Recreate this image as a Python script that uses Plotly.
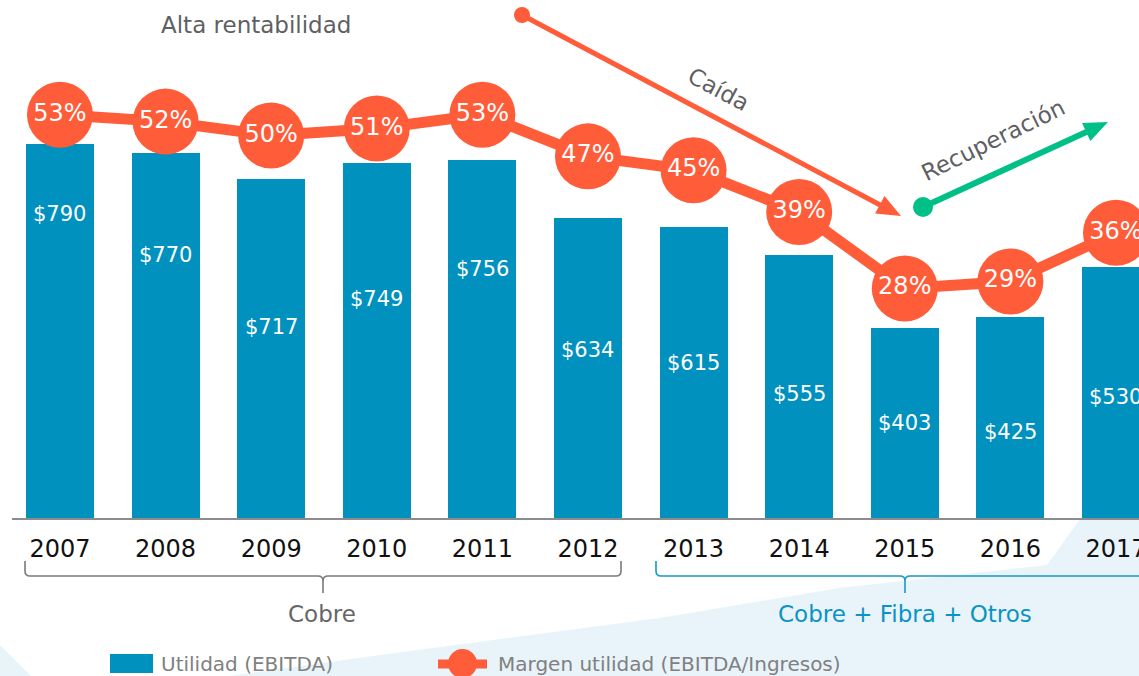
import math
import plotly.graph_objects as go

# ---------------- data ----------------
years = ["2007", "2008", "2009", "2010", "2011", "2012", "2013", "2014", "2015", "2016", "2017"]
utilidad = [790, 770, 717, 749, 756, 634, 615, 555, 403, 425, 530]      # Utilidad (EBITDA)
margen = [53, 52, 50, 51, 53, 47, 45, 39, 28, 29, 36]                  # Margen utilidad (%)
# vertical placement of the $ labels inside the bars (bar-axis units)
label_y = [642, 556, 404, 463, 526, 356, 328, 263, 202, 183, 257]

# ---------------- style ----------------
W, H = 1139, 676
PLOT_BOTTOM = 519
FONT = "DejaVu Sans, Verdana, sans-serif"
BLUE = "#0091BF"
ORANGE = "#FF5C39"
GREEN = "#00C087"
GRAY_TXT = "#5F5F63"
LEG_TXT = "#808080"
BG_BLUE = "#E8F4FA"


def px(x):
    return x / W


def py(y):
    return (PLOT_BOTTOM - y) / PLOT_BOTTOM


def path(points, close=True):
    s = "M " + " L ".join(f"{px(x):.5f},{py(y):.5f}" for x, y in points)
    return s + (" Z" if close else "")


fig = go.Figure()

fig.add_trace(go.Bar(
    x=years, y=utilidad, width=0.644, marker=dict(color=BLUE, line=dict(width=0)),
    showlegend=False, hoverinfo="x+y", name="Utilidad (EBITDA)",
))

fig.add_trace(go.Scatter(
    x=years, y=margen, yaxis="y2", mode="lines+markers+text",
    text=[f"{v}%" for v in margen], textposition="middle center",
    textfont=dict(color="white", size=24, family=FONT),
    marker=dict(size=66, color=ORANGE, line=dict(width=0)),
    line=dict(color=ORANGE, width=11),
    showlegend=False, name="Margen utilidad (EBITDA/Ingresos)",
))

annotations = []
for i, (v, ly) in enumerate(zip(utilidad, label_y)):
    annotations.append(dict(x=i, y=ly, xref="x", yref="y", text=f"${v}", showarrow=False,
                            font=dict(color="white", size=21, family=FONT)))


def txt(x, y, text, size, color, angle=0, xanchor="center"):
    annotations.append(dict(x=px(x), y=py(y), xref="paper", yref="paper", text=text,
                            showarrow=False, textangle=angle, xanchor=xanchor, yanchor="middle",
                            font=dict(size=size, color=color, family=FONT)))


txt(256, 25, "Alta rentabilidad", 23, GRAY_TXT)
txt(718, 89, "Caída", 23, GRAY_TXT, angle=28)
txt(993, 140, "Recuperación", 23, GRAY_TXT, angle=-26)
txt(322, 614, "Cobre", 23, "#666666")
txt(905, 614, "Cobre + Fibra + Otros", 23, "#0A93C4")
txt(159, 664, "Utilidad (EBITDA)", 20, LEG_TXT, xanchor="left")
txt(496, 664, "Margen utilidad (EBITDA/Ingresos)", 20, LEG_TXT, xanchor="left")

shapes = []
# background light-blue areas
shapes.append(dict(type="path", xref="paper", yref="paper", layer="below",
                   path=path([(1080, 519), (1139, 519), (1139, 676), (228, 676), (380, 655),
                              (660, 618), (839, 588), (1047, 565)]),
                   fillcolor=BG_BLUE, line=dict(width=0)))
shapes.append(dict(type="path", xref="paper", yref="paper", layer="below",
                   path=path([(0, 645), (31, 676), (0, 676)]),
                   fillcolor=BG_BLUE, line=dict(width=0)))
# axis line
shapes.append(dict(type="line", xref="paper", yref="paper", x0=px(12), x1=px(1139),
                   y0=py(519), y1=py(519), line=dict(color="#8C8C8C", width=2)))


def bracket(xl, xr, xc, color, right_open=False):
    yt, yh, yb = 561, 576, 593
    r = 5
    pts = f"M {px(xl):.5f},{py(yt):.5f} L {px(xl):.5f},{py(yh - r):.5f} Q {px(xl):.5f},{py(yh):.5f} {px(xl + r):.5f},{py(yh):.5f}"
    pts += f" L {px(xc - r):.5f},{py(yh):.5f} Q {px(xc):.5f},{py(yh):.5f} {px(xc):.5f},{py(yh + r):.5f} L {px(xc):.5f},{py(yb):.5f}"
    pts += f" M {px(xc):.5f},{py(yh + r):.5f} Q {px(xc):.5f},{py(yh):.5f} {px(xc + r):.5f},{py(yh):.5f}"
    if right_open:
        pts += f" L {px(xr):.5f},{py(yh):.5f}"
    else:
        pts += f" L {px(xr - r):.5f},{py(yh):.5f} Q {px(xr):.5f},{py(yh):.5f} {px(xr):.5f},{py(yh - r):.5f} L {px(xr):.5f},{py(yt):.5f}"
    shapes.append(dict(type="path", xref="paper", yref="paper", path=pts,
                       line=dict(color=color, width=1.6)))


bracket(25, 621, 323, "#7A7A7A")
bracket(656, 1145, 905, "#1798C8", right_open=True)


def arrow(x0, y0, x1, y1, color, lw, hl, hw, dot):
    L = math.hypot(x1 - x0, y1 - y0)
    dx, dy = (x1 - x0) / L, (y1 - y0) / L
    bx, by = x1 - dx * hl, y1 - dy * hl
    shapes.append(dict(type="line", xref="paper", yref="paper", x0=px(x0), y0=py(y0),
                       x1=px(bx + dx * 2), y1=py(by + dy * 2), line=dict(color=color, width=lw)))
    nx, ny = -dy, dx
    shapes.append(dict(type="path", xref="paper", yref="paper",
                       path=path([(x1, y1), (bx + nx * hw / 2, by + ny * hw / 2), (bx - nx * hw / 2, by - ny * hw / 2)]),
                       fillcolor=color, line=dict(width=0)))
    r = dot / 2
    shapes.append(dict(type="circle", xref="paper", yref="paper", x0=px(x0 - r), x1=px(x0 + r),
                       y0=py(y0 + r), y1=py(y0 - r), fillcolor=color, line=dict(width=0)))


arrow(522, 15, 901, 216, ORANGE, 5, 24, 20, 16)
arrow(923, 207, 1108, 122, GREEN, 6, 24, 20, 20)

# legend
shapes.append(dict(type="rect", xref="paper", yref="paper", x0=px(110), x1=px(153),
                   y0=py(673), y1=py(654), fillcolor=BLUE, line=dict(width=0)))
shapes.append(dict(type="line", xref="paper", yref="paper", x0=px(438), x1=px(487),
                   y0=py(664), y1=py(664), line=dict(color=ORANGE, width=9)))
shapes.append(dict(type="circle", xref="paper", yref="paper", x0=px(448), x1=px(477),
                   y0=py(678), y1=py(649), fillcolor=ORANGE, line=dict(width=0)))

fig.update_layout(
    width=W, height=H,
    margin=dict(l=0, r=0, t=0, b=H - PLOT_BOTTOM, pad=0, autoexpand=False),
    paper_bgcolor="white", plot_bgcolor="rgba(0,0,0,0)",
    font=dict(family=FONT),
    bargap=0,
    xaxis=dict(type="category", range=[-0.568, 10.218], showgrid=False, zeroline=False,
               showline=False, ticks="", tickfont=dict(size=24, color="#111111", family=FONT),
               ticklabelstandoff=13, automargin=False, fixedrange=True),
    yaxis=dict(range=[0, 1093], visible=False, fixedrange=True),
    yaxis2=dict(range=[-5.18, 69.5], overlaying="y", visible=False, fixedrange=True),
    shapes=shapes,
    annotations=annotations,
)

fig.write_html(
    "out.html",
    config={"displayModeBar": False},
    post_script="document.body.style.margin='0';document.body.style.overflow='hidden';",
)
